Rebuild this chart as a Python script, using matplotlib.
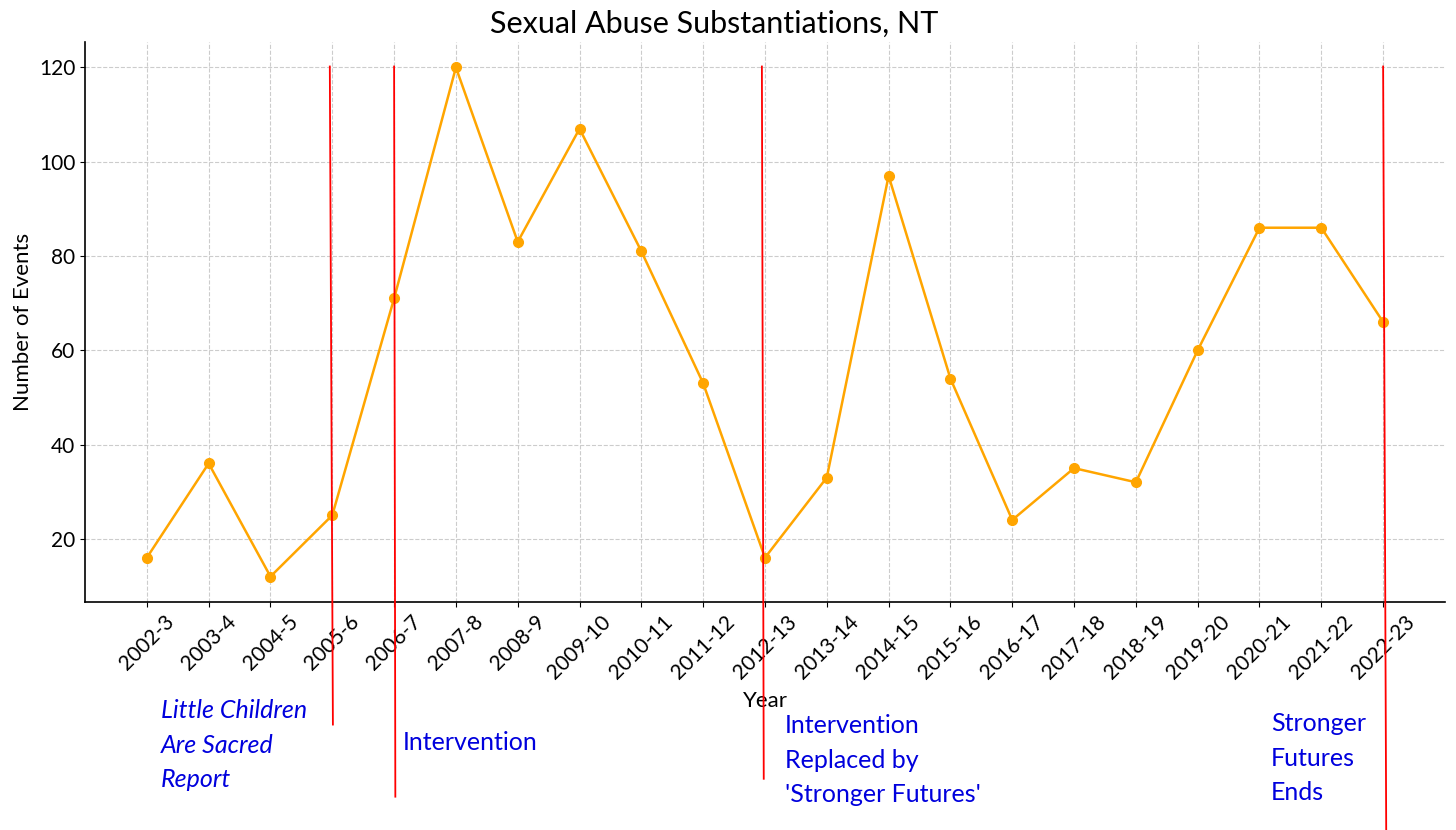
"""Sexual abuse substantiations in the NT, with policy milestones marked."""

import matplotlib
matplotlib.use("Agg")
import matplotlib.pyplot as plt

years = [
    "2002-3", "2003-4", "2004-5", "2005-6", "2006-7", "2007-8", "2008-9",
    "2009-10", "2010-11", "2011-12", "2012-13", "2013-14", "2014-15",
    "2015-16", "2016-17", "2017-18", "2018-19", "2019-20", "2020-21",
    "2021-22", "2022-23",
]
events = [16, 36, 12, 25, 71, 120, 83, 107, 81, 53, 16, 33, 97, 54, 24,
          35, 32, 60, 86, 86, 66]

# milestone lines: year index, bottom end (data y), and a note
milestone_idx = [3, 4, 10, 20]
milestone_bottom = [-19.4, -34.7, -30.9, -42.0]
notes = [
    "Little Children\nAre Sacred\nReport",
    "Intervention",
    "Intervention\nReplaced by\n'Stronger Futures'",
    "Stronger\nFutures\nEnds",
]

# the lines were hand drawn, so they lean a little
lean_top = [-0.04, 0.0, -0.05, 0.0]
lean_bottom = [0.01, 0.02, -0.02, 0.05]

plt.rcParams["font.family"] = ["Lato", "DejaVu Sans"]

fig = plt.figure(figsize=(14.56, 8.30), dpi=100)
ax = fig.add_axes([0.0584, 0.2747, 0.934, 0.6747])

x = list(range(len(years)))
ax.plot(x, events, color="#FFA500", marker="o", markersize=7, linewidth=1.8)

# keep default 5% margins around the data, not the milestone lines
lo, hi = min(events), max(events)
pad = 0.05 * (hi - lo)
ax.set_ylim(lo - pad, hi + pad)
ax.set_xlim(-0.05 * (len(x) - 1), (len(x) - 1) * 1.05)

for idx, bottom, dt, db in zip(milestone_idx, milestone_bottom,
                               lean_top, lean_bottom):
    ax.plot([idx + dt, idx + db], [120.2, bottom], color="red",
            linewidth=1.3, clip_on=False, scalex=False, scaley=False, zorder=5)

ax.set_xticks(x)
ax.set_xticklabels(years, rotation=45, fontsize=15)
ax.tick_params(axis="y", labelsize=15)
ax.set_xlabel("Year", fontsize=16, labelpad=6)
ax.set_ylabel("Number of Events", fontsize=16)
ax.grid(True, linestyle="--", color="#cccccc", linewidth=0.8)
ax.spines["top"].set_visible(False)
ax.spines["right"].set_visible(False)
ax.spines["left"].set_linewidth(1.2)
ax.spines["bottom"].set_linewidth(1.2)

fig.text(714 / 1456, 1 - 24 / 830, "Sexual Abuse Substantiations, NT",
         fontsize=22, ha="center", va="center")

note_style = dict(color="#0000dd", fontsize=18, linespacing=1.6,
                  clip_on=False, ha="left")
ax.text(0.23, -14.0, notes[0], va="top", style="italic", **note_style)
ax.text(4.14, -23.2, notes[1], va="center", **note_style)
ax.text(10.32, -17.2, notes[2], va="top", **note_style)
ax.text(18.19, -16.8, notes[3], va="top", **note_style)

fig.savefig("out.png", dpi=100)
